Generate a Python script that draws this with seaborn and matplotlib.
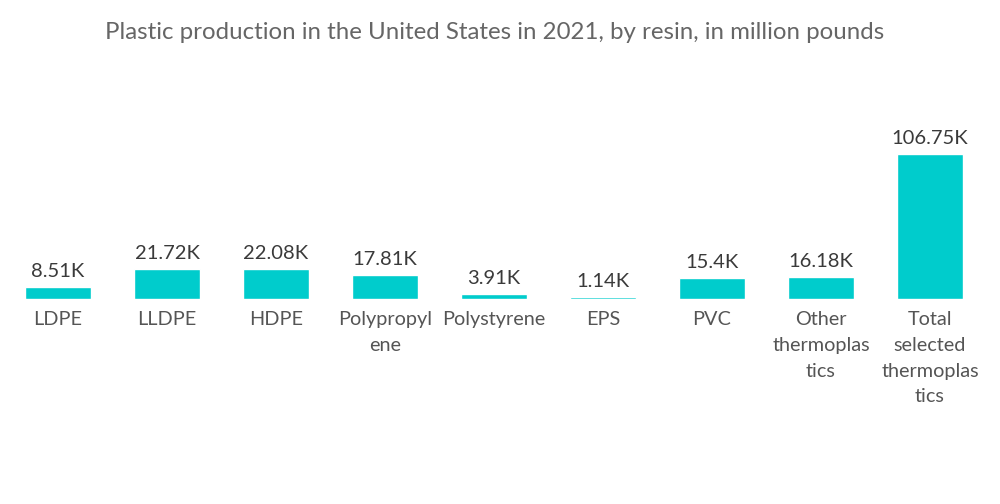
import pandas as pd
import matplotlib.pyplot as plt
import seaborn as sns

# Data (million pounds, thousands)
resins = ["LDPE", "LLDPE", "HDPE", "Polypropyl\nene", "Polystyrene", "EPS",
          "PVC", "Other\nthermoplas\ntics", "Total\nselected\nthermoplas\ntics"]
values = [8.51, 21.72, 22.08, 17.81, 3.91, 1.14, 15.4, 16.18, 106.75]
value_labels = ["8.51K", "21.72K", "22.08K", "17.81K", "3.91K", "1.14K",
                "15.4K", "16.18K", "106.75K"]

df = pd.DataFrame({"resin": resins, "value": values})

sns.set_theme(style="white")
plt.rcParams['font.family'] = ['Lato', 'DejaVu Sans']

fig = plt.figure(figsize=(10, 5.04), dpi=100)
ax = fig.add_axes([0.0035, 0.407, 0.981, 0.40])

sns.barplot(data=df, x="resin", y="value", color="#00CCCC", width=0.605,
            saturation=1, ax=ax)

ax.set_xlim(-0.5, len(resins) - 0.5)
ax.set_ylim(0, 148.5)

for i, (v, lab) in enumerate(zip(values, value_labels)):
    ax.annotate(lab, (i, v), xytext=(0, 5), textcoords="offset points",
                ha="center", va="bottom", fontsize=14.5, color="#3a3a3a")

ax.set_xlabel("")
ax.set_ylabel("")
ax.set_yticks([])
ax.tick_params(axis="x", length=0, pad=9, labelsize=14.3, labelcolor="#555555")
for t in ax.get_xticklabels():
    t.set_linespacing(1.62)
    t.set_verticalalignment("top")
sns.despine(ax=ax, left=True, bottom=True)

fig.text(0.495, 0.936,
         "Plastic production in the United States in 2021, by resin, in million pounds",
         ha="center", va="center", fontsize=17.3, color="#666666")

fig.savefig("out.png", dpi=100)
